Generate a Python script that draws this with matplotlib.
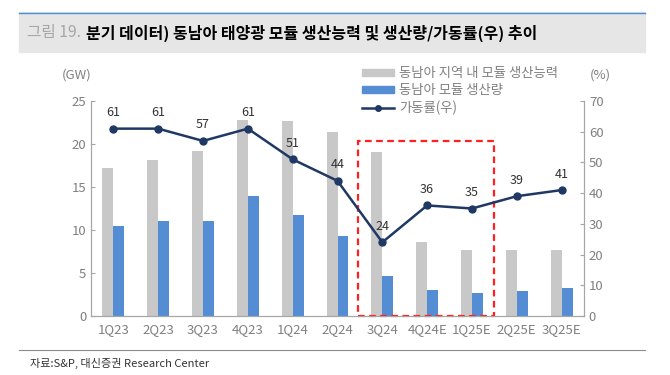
import matplotlib
matplotlib.use("Agg")
import matplotlib.pyplot as plt
from matplotlib.patches import Rectangle
from matplotlib.lines import Line2D
from matplotlib.patches import Patch

plt.rcParams['font.family'] = ['Noto Sans CJK KR', 'DejaVu Sans']

categories = ['1Q23', '2Q23', '3Q23', '4Q23', '1Q24', '2Q24', '3Q24', '4Q24E', '1Q25E', '2Q25E', '3Q25E']
capacity = [17.2, 18.1, 19.2, 22.8, 22.7, 21.4, 19.1, 8.6, 7.7, 7.7, 7.7]
production = [10.5, 11.0, 11.0, 14.0, 11.7, 9.3, 4.65, 3.0, 2.7, 2.9, 3.2]
utilization = [61, 61, 57, 61, 51, 44, 24, 36, 35, 39, 41]

left_ticks = [0, 5, 10, 15, 20, 25]
right_ticks = [0, 10, 20, 30, 40, 50, 60, 70]

title_prefix = '그림 19.'
title_main = '분기 데이터) 동남아 태양광 모듈 생산능력 및 생산량/가동률(우) 추이'
legend_labels = ['동남아 지역 내 모듈 생산능력', '동남아 모듈 생산량', '가동률(우)']
source = '자료:S&P, 대신증권 Research Center'

GRAY = '#c8c8c8'
BLUE = '#548dd4'
NAVY = '#1f3864'
TICKC = '#808080'

fig = plt.figure(figsize=(6.7, 3.75), dpi=100)

# Title band
fig.patches.append(Rectangle((19/670, 1-52/375), (645-19)/670, 40/375,
                             transform=fig.transFigure, color='#e6e6e6', zorder=0))
fig.add_artist(Line2D([19/670, 645/670], [1-12.5/375, 1-12.5/375], color='#4a90d9', lw=1.0))
fig.text(27/670, 1-33/375, title_prefix, fontsize=11.3, color='#a6a6a6', va='center', ha='left')
fig.text(86/670, 1-33/375, title_main, fontsize=11.5, color='black', va='center', ha='left', fontweight='bold')

ax = fig.add_axes([91/670, 1-316/375, (584-91)/670, (316-101)/375])
ax2 = ax.twinx()

x = list(range(len(categories)))
w = 0.245
ax.bar([i - w/2 for i in x], capacity, width=w, color=GRAY, zorder=2)
ax.bar([i + w/2 for i in x], production, width=w, color=BLUE, zorder=2)

ax.set_xlim(-0.5, len(categories) - 0.5)
ax.set_ylim(0, 25)
ax.set_yticks(left_ticks)
ax.set_xticks(x)
ax.set_xticklabels(categories)

ax2.plot(x, utilization, color=NAVY, marker='o', markersize=5, lw=1.8, zorder=3)
for i, v in zip(x, utilization):
    ax2.annotate(str(v), (i, v), xytext=(0, 11.5), textcoords='offset points',
                 ha='center', va='center', fontsize=9, color='#333333')
ax2.set_ylim(0, 70)
ax2.set_yticks(right_ticks)

for a in (ax, ax2):
    a.spines['top'].set_visible(False)
    for s in ('left', 'right', 'bottom'):
        a.spines[s].set_color('#a6a6a6')
        a.spines[s].set_linewidth(0.8)
    a.tick_params(axis='y', colors='#a6a6a6', labelcolor=TICKC, labelsize=9.5, direction='in', length=3)
ax.tick_params(axis='x', colors='#a6a6a6', labelcolor=TICKC, labelsize=9.5, length=0, pad=5)

# Red dashed box
ax.add_patch(Rectangle((5.46, 0.05), 8.5 - 5.46, 20.3, fill=False, edgecolor='#ff2020',
                       lw=1.6, ls=(0, (3, 2)), zorder=4, clip_on=False))

fig.text(77/670, 1-75/375, '(GW)', fontsize=9.5, color=TICKC, ha='center', va='center')
fig.text(600/670, 1-75/375, '(%)', fontsize=9.5, color=TICKC, ha='center', va='center')

handles = [Patch(color=GRAY), Patch(color=BLUE),
           Line2D([], [], color=NAVY, marker='o', markersize=4, lw=1.8)]
fig.legend(handles, legend_labels, loc='upper left', bbox_to_anchor=(362/670, 1-66/375),
           frameon=False, fontsize=9.6, labelcolor=TICKC, handlelength=2.4, handleheight=0.4,
           handletextpad=0.4, labelspacing=0.25, borderaxespad=0, borderpad=0)

# Footer
fig.add_artist(Line2D([19/670, 645/670], [1-350/375, 1-350/375], color='#8c8c8c', lw=0.8))
fig.text(30/670, 1-363/375, source, fontsize=8, color='#333333', ha='left', va='center')

fig.savefig('out.png', dpi=100)
